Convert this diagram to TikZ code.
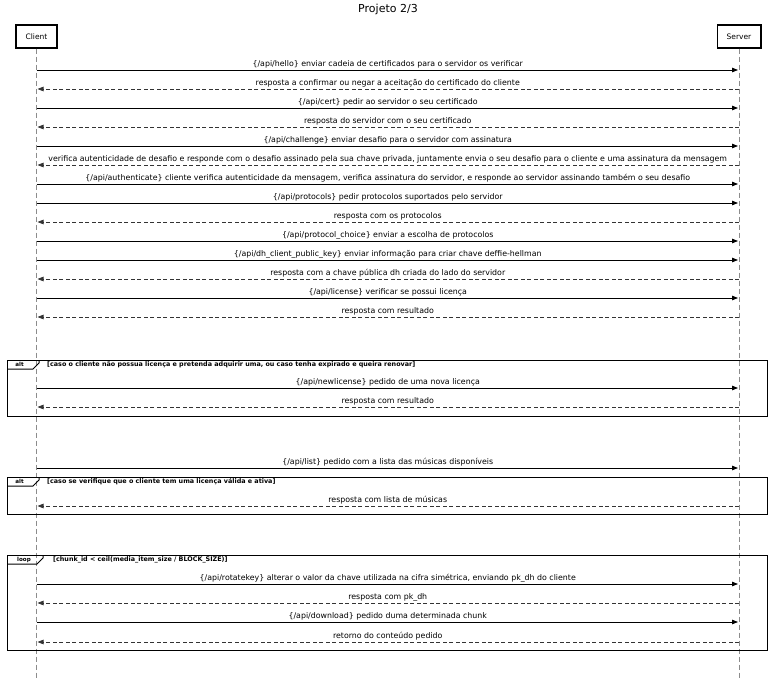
\documentclass[tikz,border=0pt]{standalone}
\usepackage{fontspec}
\setmainfont{DejaVu Sans}
\usetikzlibrary{arrows.meta}

\begin{document}
\begin{tikzpicture}[x=1pt,y=-1pt,>={Triangle[length=6pt,width=4.5pt]},
        actor node/.style={draw,line width=1.4pt,minimum height=23pt,inner xsep=9.5pt,font=\fontsize{7.5}{9}\selectfont},
        life line/.style={black!45,line width=0.9pt,dash pattern=on 5pt off 3pt},
        call/.style={->,shorten >=1pt,line width=0.8pt},
        reply/.style={->,shorten >=1pt,line width=0.8pt,black!80,dash pattern=on 4pt off 2.5pt},
        msg/.style={above,inner sep=1.2pt,black,font=\fontsize{7.85}{9}\selectfont},
        frame box/.style={draw,line width=1pt},
        frame tab/.style={inner sep=0pt,font=\bfseries\fontsize{5.6}{7}\selectfont},
        frame label/.style={inner sep=0pt,anchor=west,font=\bfseries\fontsize{6.4}{7}\selectfont}]
                \useasboundingbox (0,0) rectangle (775,678);
                \node (title) at (388,9) {\fontsize{11}{13}\selectfont Projeto 2/3};
                \node[actor node] (client) at (36.5,36.5) {Client};
                \node[actor node] (server) at (739,36.5) {Server};
                \coordinate (client end) at (36.5,678);
                \coordinate (server end) at (739,678);
                \draw[life line] (client) -- (client end);
                \draw[life line] (server) -- (server end);

                % frames
                \draw[frame box] (7,360) rectangle (767,416);
                \draw[frame box] (7,369) -- (33,369) -- (39,363) -- (39,360);
                \node[frame tab] (alt1) at (19.5,364.5) {alt};
                \node[frame label] (cond1) at (47,364.5) {[caso o cliente não possua licença e pretenda adquirir uma, ou caso tenha expirado e queira renovar]};
                \draw[frame box] (7,477) rectangle (767,514);
                \draw[frame box] (7,486) -- (33,486) -- (39,480) -- (39,477);
                \node[frame tab] (alt2) at (19.5,481.5) {alt};
                \node[frame label] (cond2) at (47,481.5) {[caso se verifique que o cliente tem uma licença válida e ativa]};
                \draw[frame box] (7,555) rectangle (767,650);
                \draw[frame box] (7,564) -- (37,564) -- (43,558) -- (43,555);
                \node[frame tab] (loop1) at (24,559.5) {loop};
                \node[frame label] (cond3) at (53,559.5) {[chunk\_id < ceil(media\_item\_size / BLOCK\_SIZE)]};

                % message ends on the lifelines
                \coordinate (c1) at (36.5,70);   \coordinate (s1) at (739,70);
                \coordinate (c2) at (36.5,89);   \coordinate (s2) at (739,89);
                \coordinate (c3) at (36.5,108);  \coordinate (s3) at (739,108);
                \coordinate (c4) at (36.5,127);  \coordinate (s4) at (739,127);
                \coordinate (c5) at (36.5,146);  \coordinate (s5) at (739,146);
                \coordinate (c6) at (36.5,165);  \coordinate (s6) at (739,165);
                \coordinate (c7) at (36.5,184);  \coordinate (s7) at (739,184);
                \coordinate (c8) at (36.5,203);  \coordinate (s8) at (739,203);
                \coordinate (c9) at (36.5,222);  \coordinate (s9) at (739,222);
                \coordinate (c10) at (36.5,241); \coordinate (s10) at (739,241);
                \coordinate (c11) at (36.5,260); \coordinate (s11) at (739,260);
                \coordinate (c12) at (36.5,279); \coordinate (s12) at (739,279);
                \coordinate (c13) at (36.5,298); \coordinate (s13) at (739,298);
                \coordinate (c14) at (36.5,317); \coordinate (s14) at (739,317);
                \coordinate (c15) at (36.5,388); \coordinate (s15) at (739,388);
                \coordinate (c16) at (36.5,407); \coordinate (s16) at (739,407);
                \coordinate (c17) at (36.5,468); \coordinate (s17) at (739,468);
                \coordinate (c18) at (36.5,506); \coordinate (s18) at (739,506);
                \coordinate (c19) at (36.5,584); \coordinate (s19) at (739,584);
                \coordinate (c20) at (36.5,603); \coordinate (s20) at (739,603);
                \coordinate (c21) at (36.5,622); \coordinate (s21) at (739,622);
                \coordinate (c22) at (36.5,642); \coordinate (s22) at (739,642);

                \path[every node/.style={msg}]
                        (c1) edge[call] node {\{/api/hello\} enviar cadeia de certificados para o servidor os verificar} (s1)
                        (s2) edge[reply] node {resposta a confirmar ou negar a aceitação do certificado do cliente} (c2)
                        (c3) edge[call] node {\{/api/cert\} pedir ao servidor o seu certificado} (s3)
                        (s4) edge[reply] node {resposta do servidor com o seu certificado} (c4)
                        (c5) edge[call] node {\{/api/challenge\} enviar desafio para o servidor com assinatura} (s5)
                        (s6) edge[reply] node {verifica autenticidade de desafio e responde com o desafio assinado pela sua chave privada, juntamente envia o seu desafio para o cliente e uma assinatura da mensagem} (c6)
                        (c7) edge[call] node {\{/api/authenticate\} cliente verifica autenticidade da mensagem, verifica assinatura do servidor, e responde ao servidor assinando também o seu desafio} (s7)
                        (c8) edge[call] node {\{/api/protocols\} pedir protocolos suportados pelo servidor} (s8)
                        (s9) edge[reply] node {resposta com os protocolos} (c9)
                        (c10) edge[call] node {\{/api/protocol\_choice\} enviar a escolha de protocolos} (s10)
                        (c11) edge[call] node {\{/api/dh\_client\_public\_key\} enviar informação para criar chave deffie-hellman} (s11)
                        (s12) edge[reply] node {resposta com a chave pública dh criada do lado do servidor} (c12)
                        (c13) edge[call] node {\{/api/license\} verificar se possui licença} (s13)
                        (s14) edge[reply] node {resposta com resultado} (c14)
                        (c15) edge[call] node {\{/api/newlicense\} pedido de uma nova licença} (s15)
                        (s16) edge[reply] node {resposta com resultado} (c16)
                        (c17) edge[call] node {\{/api/list\} pedido com a lista das músicas disponíveis} (s17)
                        (s18) edge[reply] node {resposta com lista de músicas} (c18)
                        (c19) edge[call] node {\{/api/rotatekey\} alterar o valor da chave utilizada na cifra simétrica, enviando pk\_dh do cliente} (s19)
                        (s20) edge[reply] node {resposta com pk\_dh} (c20)
                        (c21) edge[call] node {\{/api/download\} pedido duma determinada chunk} (s21)
                        (s22) edge[reply] node {retorno do conteúdo pedido} (c22)
                    ;
\end{tikzpicture}
\end{document}
